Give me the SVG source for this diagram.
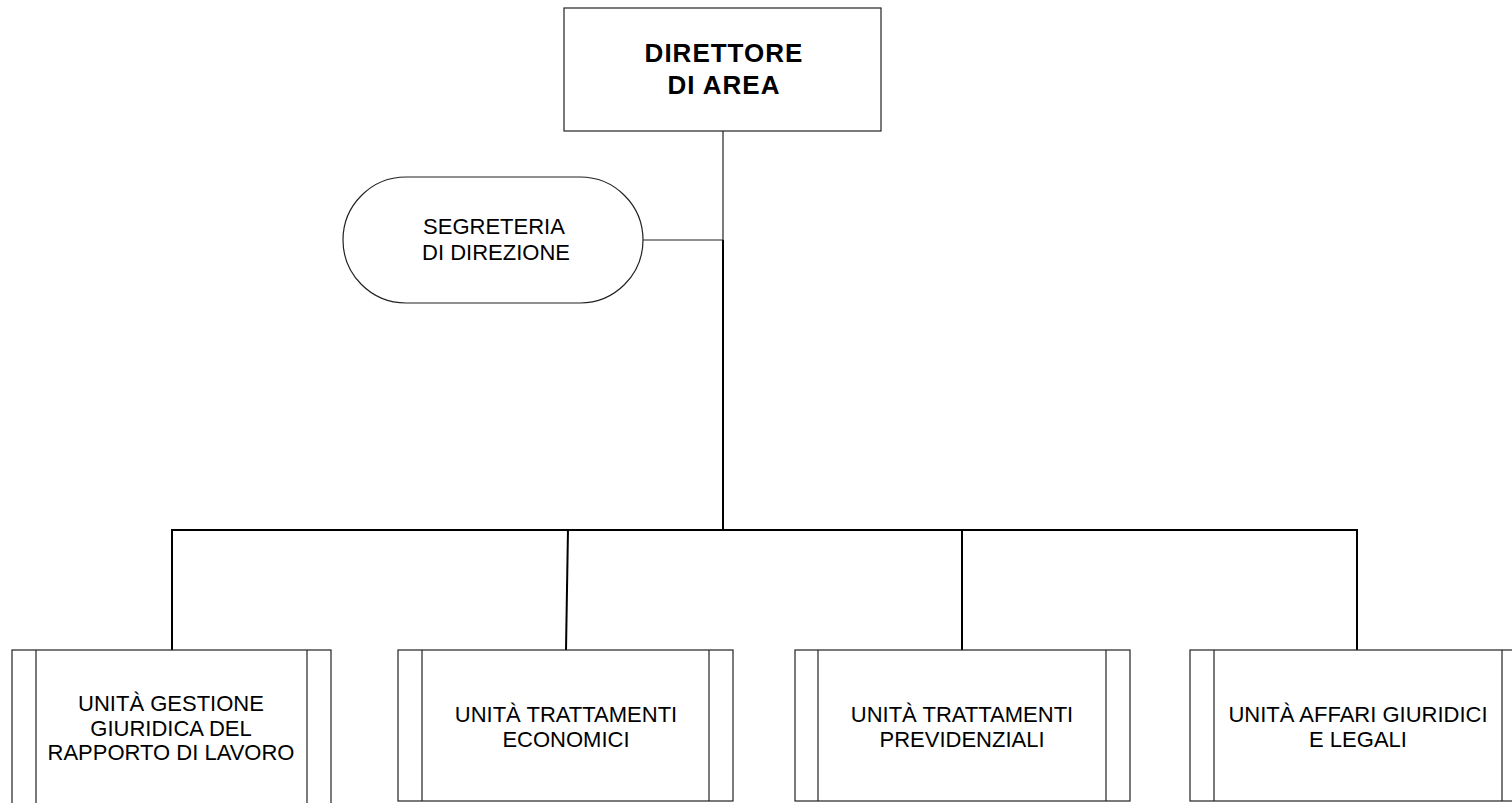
<svg xmlns="http://www.w3.org/2000/svg" width="1512" height="803" viewBox="0 0 1512 803">
<style>
.box{fill:#fff;stroke:#222;stroke-width:1.2}
.bar{fill:none;stroke:#222;stroke-width:1.2}
.conn{fill:none;stroke:#000;stroke-width:2}
.thin{fill:none;stroke:#222;stroke-width:1.2}
.t{font-family:"Liberation Sans",Arial,sans-serif;font-size:22px;fill:#000;text-anchor:middle}
.tb{font-family:"Liberation Sans",Arial,sans-serif;font-size:26px;font-weight:bold;fill:#000;text-anchor:middle;letter-spacing:1px}
</style>
<rect width="1512" height="803" fill="#fff"/>
<g id="connectors">
<line class="thin" x1="723" y1="131" x2="723" y2="240"/>
<line class="conn" x1="723" y1="240" x2="723" y2="531"/>
<line class="thin" x1="643" y1="240" x2="723" y2="240"/>
<line class="conn" x1="171" y1="530" x2="1358" y2="530"/>
<line class="conn" x1="172" y1="529" x2="172" y2="650"/>
<line class="conn" x1="568" y1="529" x2="566" y2="650"/>
<line class="conn" x1="962" y1="529" x2="962" y2="650"/>
<line class="conn" x1="1357" y1="529" x2="1357" y2="650"/>
</g>
<g id="direttore">
<rect class="box" x="564" y="8" width="317" height="123"/>
<text class="tb" x="724" y="62">DIRETTORE</text>
<text class="tb" x="724" y="94">DI AREA</text>
</g>
<g id="segreteria">
<rect class="box" x="343" y="177" width="300" height="126" rx="63" ry="63"/>
<text class="t" x="494" y="234">SEGRETERIA</text>
<text class="t" x="496" y="260">DI DIREZIONE</text>
</g>
<g id="unita-gestione">
<rect class="box" x="12" y="650" width="319" height="160"/>
<line class="bar" x1="36" y1="650" x2="36" y2="810"/>
<line class="bar" x1="307" y1="650" x2="307" y2="810"/>
<text class="t" x="171" y="711">UNITÀ GESTIONE</text>
<text class="t" x="171" y="736">GIURIDICA DEL</text>
<text class="t" x="171" y="760">RAPPORTO DI LAVORO</text>
</g>
<g id="unita-economici">
<rect class="box" x="398" y="650" width="335" height="151"/>
<line class="bar" x1="422" y1="650" x2="422" y2="801"/>
<line class="bar" x1="709" y1="650" x2="709" y2="801"/>
<text class="t" x="566" y="722">UNITÀ TRATTAMENTI</text>
<text class="t" x="566" y="747">ECONOMICI</text>
</g>
<g id="unita-previdenziali">
<rect class="box" x="795" y="650" width="335" height="151"/>
<line class="bar" x1="818" y1="650" x2="818" y2="801"/>
<line class="bar" x1="1106" y1="650" x2="1106" y2="801"/>
<text class="t" x="962" y="722">UNITÀ TRATTAMENTI</text>
<text class="t" x="962" y="747">PREVIDENZIALI</text>
</g>
<g id="unita-affari">
<rect class="box" x="1190" y="650" width="336" height="151"/>
<line class="bar" x1="1214" y1="650" x2="1214" y2="801"/>
<line class="bar" x1="1502" y1="650" x2="1502" y2="801"/>
<text class="t" x="1358" y="722">UNITÀ AFFARI GIURIDICI</text>
<text class="t" x="1358" y="747">E LEGALI</text>
</g>
</svg>
